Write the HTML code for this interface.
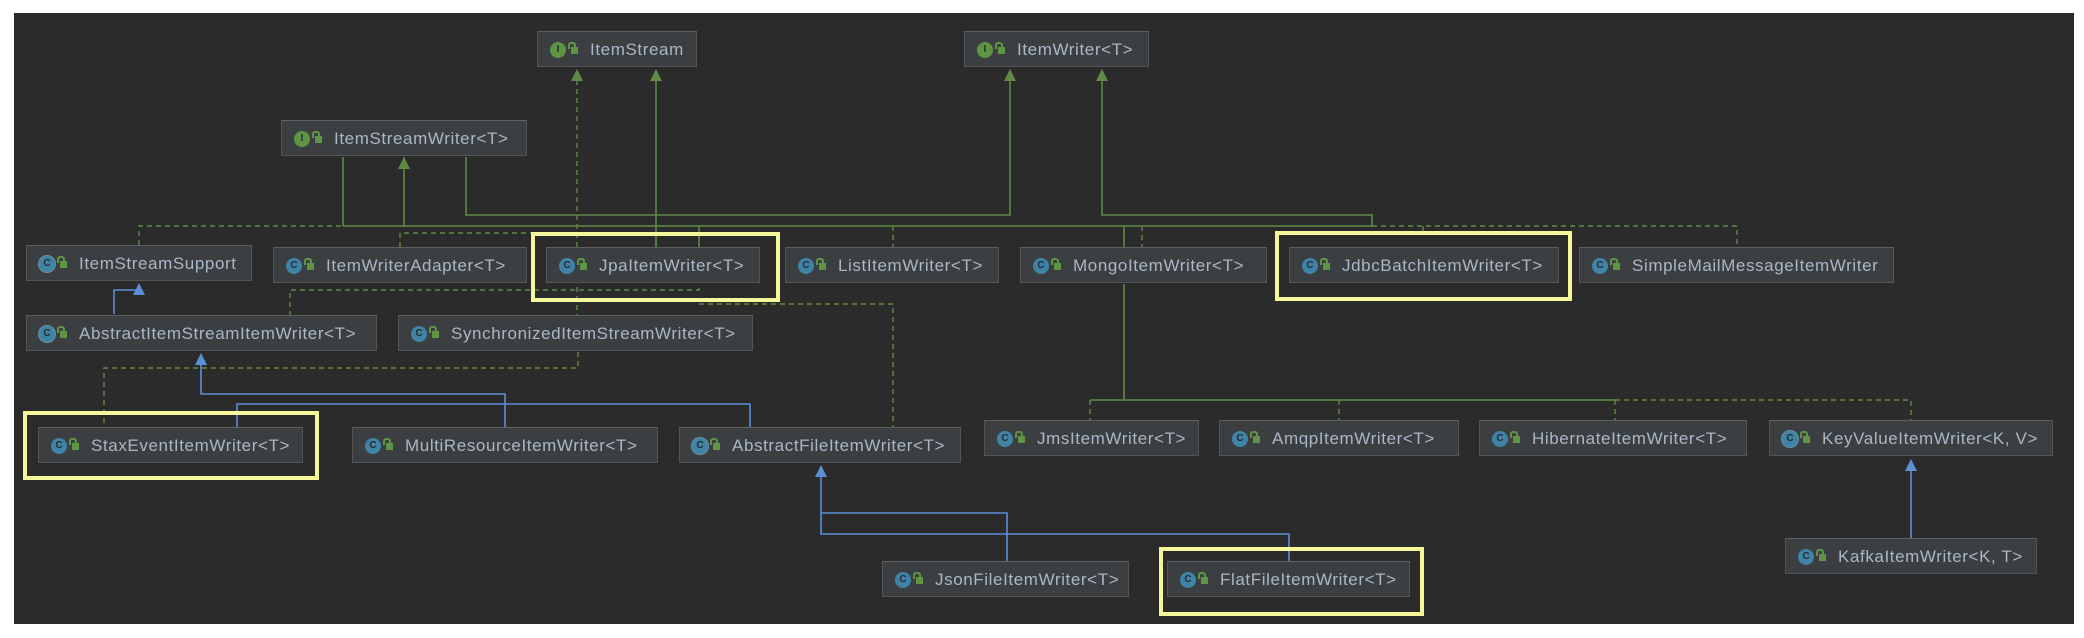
<!DOCTYPE html>
<html><head><meta charset="utf-8"><style>
body{margin:0;width:2084px;height:638px;background:#fff;position:relative;overflow:hidden;font-family:"Liberation Sans",sans-serif}
#bg{position:absolute;left:14px;top:13px;width:2060px;height:611px;background:#2b2b2b}
.n{position:absolute;height:36px;background:#3c3f41;border:1px solid #555;border-top-color:#5e6060;box-sizing:border-box;color:#a9b7c6;font-size:17px;letter-spacing:.6px;line-height:35px;white-space:nowrap;padding-left:52px;overflow:hidden}
.n .ic{position:absolute;left:12px;top:10px;width:16px;height:16px;border-radius:50%;background:#3f84a6;color:#2b2b2b;font-size:10px;letter-spacing:0;line-height:16px;text-align:center;font-weight:bold}
.n .ic.i{background:#5e9444}
.n .ic.a{box-shadow:0 0 0 1px #6a8fa3;}
.n .lk{position:absolute;left:33px;top:15px;width:7px;height:7px;background:#5e9444}
.n .lk:before{content:"";position:absolute;left:-3px;top:-5px;width:4px;height:5px;border:2px solid #5e9444;border-bottom:none;border-radius:3px 3px 0 0}
.hl{position:absolute;border:4px solid #f5f59a;box-sizing:border-box}
svg{position:absolute;left:0;top:0}
</style></head><body>
<div id="bg"></div>
<svg width="2084" height="638">
<g stroke="#5f8a46" stroke-width="1.6" fill="none">
<path d="M343 157V226M466 157V215H1010V80M656 80V247M404 157V226M1102 80V215H1372V226M343 226H1372M1124 226V247M1124 284V400M1090 400H1615"/>
<path d="M699 226V247"/>
</g>
<g stroke="#5f8a46" stroke-width="1.4" fill="none" stroke-dasharray="5,4">
<path d="M577 80V316M139 245V226H343M400 247V233H547M893 226V247M1142 226V247M1372 226H1737V247M1423 226V232"/>
<path d="M290 316V290H699V284M699 304H893V427M578 352V368H104V427"/>
<path d="M1615 400H1911V420M1090 400V420M1339 400V420M1615 400V420"/>
</g>
<g stroke="#5b8fd6" stroke-width="1.6" fill="none">
<path d="M114 314V290H139V294M201 364V394H505V427M237 427V404H750V427M821 476V534H1289V561M821 513H1007V561M1911 470V538"/>
</g>
<g fill="#5f8a46">
<path d="M577 69l-6 12h12zM656 69l-6 12h12zM1010 69l-6 12h12zM1102 69l-6 12h12zM404 157l-6 12h12z"/>
</g>
<g fill="#5b8fd6">
<path d="M139 283l-6 12h12zM201 353l-6 12h12zM821 465l-6 12h12zM1911 459l-6 12h12z"/>
</g>
</svg>
<div class="hl" style="left:531px;top:232px;width:249px;height:70px"></div>
<div class="hl" style="left:1275px;top:231px;width:297px;height:70px"></div>
<div class="hl" style="left:23px;top:411px;width:296px;height:69px"></div>
<div class="hl" style="left:1159px;top:547px;width:265px;height:69px"></div>

<div class="n" style="left:537px;top:31px;width:160px"><span class="ic i">I</span><span class="lk"></span>ItemStream</div>
<div class="n" style="left:964px;top:31px;width:185px"><span class="ic i">I</span><span class="lk"></span>ItemWriter&lt;T&gt;</div>
<div class="n" style="left:281px;top:120px;width:246px"><span class="ic i">I</span><span class="lk"></span>ItemStreamWriter&lt;T&gt;</div>
<div class="n" style="left:26px;top:245px;width:226px"><span class="ic a">C</span><span class="lk"></span>ItemStreamSupport</div>
<div class="n" style="left:273px;top:247px;width:254px"><span class="ic">C</span><span class="lk"></span>ItemWriterAdapter&lt;T&gt;</div>
<div class="n" style="left:546px;top:247px;width:214px"><span class="ic">C</span><span class="lk"></span>JpaItemWriter&lt;T&gt;</div>
<div class="n" style="left:785px;top:247px;width:214px"><span class="ic">C</span><span class="lk"></span>ListItemWriter&lt;T&gt;</div>
<div class="n" style="left:1020px;top:247px;width:247px"><span class="ic">C</span><span class="lk"></span>MongoItemWriter&lt;T&gt;</div>
<div class="n" style="left:1289px;top:247px;width:270px"><span class="ic">C</span><span class="lk"></span>JdbcBatchItemWriter&lt;T&gt;</div>
<div class="n" style="left:1579px;top:247px;width:315px"><span class="ic">C</span><span class="lk"></span>SimpleMailMessageItemWriter</div>
<div class="n" style="left:26px;top:315px;width:351px"><span class="ic a">C</span><span class="lk"></span>AbstractItemStreamItemWriter&lt;T&gt;</div>
<div class="n" style="left:398px;top:315px;width:355px"><span class="ic">C</span><span class="lk"></span>SynchronizedItemStreamWriter&lt;T&gt;</div>
<div class="n" style="left:38px;top:427px;width:265px"><span class="ic">C</span><span class="lk"></span>StaxEventItemWriter&lt;T&gt;</div>
<div class="n" style="left:352px;top:427px;width:306px"><span class="ic">C</span><span class="lk"></span>MultiResourceItemWriter&lt;T&gt;</div>
<div class="n" style="left:679px;top:427px;width:282px"><span class="ic a">C</span><span class="lk"></span>AbstractFileItemWriter&lt;T&gt;</div>
<div class="n" style="left:984px;top:420px;width:215px"><span class="ic">C</span><span class="lk"></span>JmsItemWriter&lt;T&gt;</div>
<div class="n" style="left:1219px;top:420px;width:240px"><span class="ic">C</span><span class="lk"></span>AmqpItemWriter&lt;T&gt;</div>
<div class="n" style="left:1479px;top:420px;width:268px"><span class="ic">C</span><span class="lk"></span>HibernateItemWriter&lt;T&gt;</div>
<div class="n" style="left:1769px;top:420px;width:284px"><span class="ic a">C</span><span class="lk"></span>KeyValueItemWriter&lt;K, V&gt;</div>
<div class="n" style="left:1785px;top:538px;width:252px"><span class="ic">C</span><span class="lk"></span>KafkaItemWriter&lt;K, T&gt;</div>
<div class="n" style="left:882px;top:561px;width:247px"><span class="ic">C</span><span class="lk"></span>JsonFileItemWriter&lt;T&gt;</div>
<div class="n" style="left:1167px;top:561px;width:243px"><span class="ic">C</span><span class="lk"></span>FlatFileItemWriter&lt;T&gt;</div>
</body></html>
